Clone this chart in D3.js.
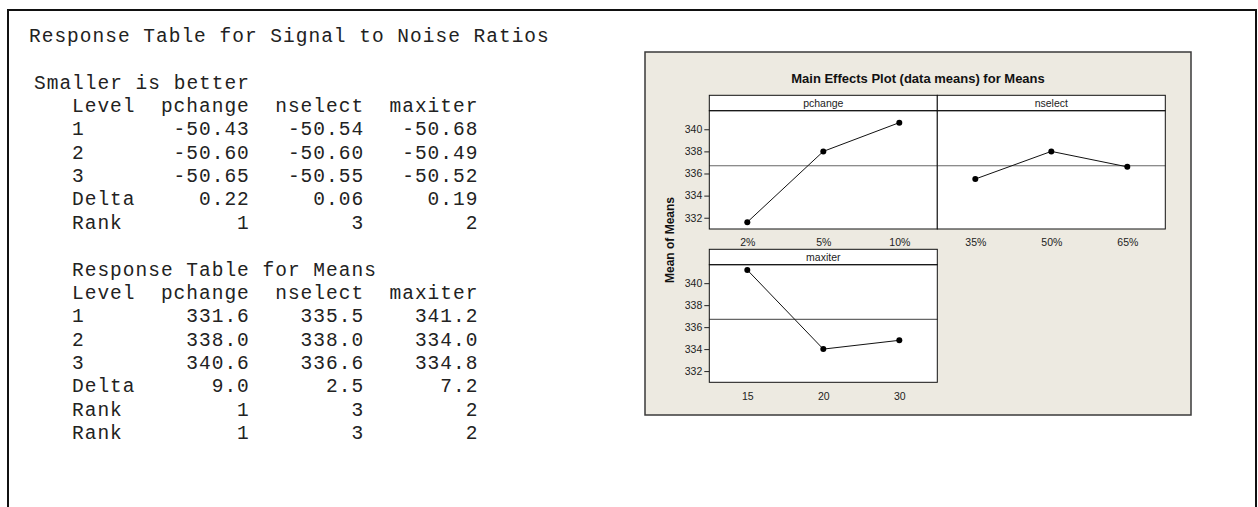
<!DOCTYPE html>
<html>
<head>
<meta charset="utf-8">
<script src="https://cdn.jsdelivr.net/npm/d3@7"></script>
<style>
  body { margin: 0; background: #fff; }
  svg { display: block; }
</style>
</head>
<body>
<script>
// factor names, level labels (x ticks) and mean response per level
const factors = ["pchange", "nselect", "maxiter"];
const pchangeLevels = ["2%", "5%", "10%"];
const nselectLevels = ["35%", "50%", "65%"];
const maxiterLevels = ["15", "20", "30"];
const pchangeMeans = [331.6, 338.0, 340.6];
const nselectMeans = [335.5, 338.0, 336.6];
const maxiterMeans = [341.2, 334.0, 334.8];

// signal to noise ratios (smaller is better)
const pchangeSN = [-50.43, -50.60, -50.65];
const nselectSN = [-50.54, -50.60, -50.55];
const maxiterSN = [-50.68, -50.49, -50.52];
const snDelta = [0.22, 0.06, 0.19];
const snRank = [1, 3, 2];
const meanDelta = [9.0, 2.5, 7.2];
const meanRank = [1, 3, 2];

const yTicks = [332, 334, 336, 338, 340];

const width = 1258, height = 507;

const svg = d3.select("body")
  .append("svg")
  .attr("width", width)
  .attr("height", height);

// page frame (open at the bottom)
svg.append("path")
  .attr("d", "M8," + height + "V10H1256V" + height)
  .attr("fill", "none")
  .attr("stroke", "#111")
  .attr("stroke-width", 2);

// ---- text tables on the left ----
const mono = svg.append("g")
  .attr("font-family", "'Liberation Mono', 'Courier New', monospace")
  .attr("font-size", 19.5)
  .attr("letter-spacing", 1.0)
  .attr("fill", "#222");

const lineH = 23.35, line0 = 42, charW = 12.7, colX = 72;
const lineY = n => line0 + n * lineH;

function put(text, col, n) {
  mono.append("text")
    .attr("x", colX + col * charW)
    .attr("y", lineY(n))
    .text(text);
}
function putRight(text, endCol, n) {
  put(text, endCol - text.length, n);
}
function header(n) {
  put("Level", 0, n);
  factors.forEach((f, i) => putRight(f, 14 + 9 * i, n));
}

mono.append("text").attr("x", 29).attr("y", lineY(0))
  .text("Response Table for Signal to Noise Ratios");
mono.append("text").attr("x", 34).attr("y", lineY(2))
  .text("Smaller is better");

header(3);
[0, 1, 2].forEach(r => {
  put(String(r + 1), 0, 4 + r);
  [pchangeSN, nselectSN, maxiterSN].forEach((arr, i) =>
    putRight(arr[r].toFixed(2), 14 + 9 * i, 4 + r));
});
put("Delta", 0, 7);
snDelta.forEach((d, i) => putRight(d.toFixed(2), 14 + 9 * i, 7));
put("Rank", 0, 8);
snRank.forEach((d, i) => putRight(String(d), 14 + 9 * i, 8));

put("Response Table for Means", 0, 10);
header(11);
[0, 1, 2].forEach(r => {
  put(String(r + 1), 0, 12 + r);
  [pchangeMeans, nselectMeans, maxiterMeans].forEach((arr, i) =>
    putRight(arr[r].toFixed(1), 14 + 9 * i, 12 + r));
});
put("Delta", 0, 15);
meanDelta.forEach((d, i) => putRight(d.toFixed(1), 14 + 9 * i, 15));
[16, 17].forEach(n => {
  put("Rank", 0, n);
  meanRank.forEach((d, i) => putRight(String(d), 14 + 9 * i, n));
});

// ---- main effects plot ----
const panel = { x: 645, y: 52, w: 546, h: 363 };
const g = svg.append("g")
  .attr("font-family", "'Liberation Sans', Arial, sans-serif");

g.append("rect")
  .attr("x", panel.x).attr("y", panel.y)
  .attr("width", panel.w).attr("height", panel.h)
  .attr("fill", "#edeae1")
  .attr("stroke", "#3a3a3a")
  .attr("stroke-width", 1.5);

g.append("text")
  .attr("x", panel.x + panel.w / 2)
  .attr("y", 83)
  .attr("text-anchor", "middle")
  .attr("font-size", 13)
  .attr("font-weight", "bold")
  .attr("fill", "#111")
  .text("Main Effects Plot (data means) for Means");

g.append("text")
  .attr("transform", "translate(674,240)rotate(-90)")
  .attr("text-anchor", "middle")
  .attr("font-size", 12)
  .attr("font-weight", "bold")
  .attr("fill", "#111")
  .text("Mean of Means");

const yDomain = [330.98, 341.68];
const plotLeft = 709.3, cellW = 228, stripH = 15.4;
const rows = [{ top: 95.3, bottom: 229 }, { top: 249.3, bottom: 382.3 }];
const cells = [
  { name: "pchange", levels: pchangeLevels, means: pchangeMeans, row: 0, col: 0 },
  { name: "nselect", levels: nselectLevels, means: nselectMeans, row: 0, col: 1 },
  { name: "maxiter", levels: maxiterLevels, means: maxiterMeans, row: 1, col: 0 }
];
const grandMean = d3.mean([...pchangeMeans, ...nselectMeans, ...maxiterMeans]);

cells.forEach(c => {
  const x0 = plotLeft + c.col * cellW;
  const r = rows[c.row];
  const plotTop = r.top + stripH;

  const x = d3.scalePoint()
    .domain(c.levels)
    .range([x0, x0 + cellW])
    .padding(0.5);
  const y = d3.scaleLinear()
    .domain(yDomain)
    .range([r.bottom, plotTop]);

  // plot area
  g.append("rect")
    .attr("x", x0).attr("y", plotTop)
    .attr("width", cellW).attr("height", r.bottom - plotTop)
    .attr("fill", "#fff");

  // strip with factor name
  g.append("rect")
    .attr("x", x0).attr("y", r.top)
    .attr("width", cellW).attr("height", stripH)
    .attr("fill", "#fff")
    .attr("stroke", "#111");
  g.append("text")
    .attr("x", x0 + cellW / 2)
    .attr("y", r.top + stripH / 2 + 3.8)
    .attr("text-anchor", "middle")
    .attr("font-size", 10.5)
    .attr("fill", "#222")
    .text(c.name);

  // grand mean reference line
  g.append("line")
    .attr("x1", x0).attr("x2", x0 + cellW)
    .attr("y1", y(grandMean)).attr("y2", y(grandMean))
    .attr("stroke", "#666")
    .attr("stroke-width", 1.2);

  const pts = c.levels.map((l, i) => [x(l), y(c.means[i])]);
  g.append("path")
    .attr("d", d3.line()(pts))
    .attr("fill", "none")
    .attr("stroke", "#111")
    .attr("stroke-width", 1);
  g.selectAll(null)
    .data(pts)
    .enter()
    .append("circle")
    .attr("cx", d => d[0])
    .attr("cy", d => d[1])
    .attr("r", 3)
    .attr("fill", "#000");

  // frame
  g.append("rect")
    .attr("x", x0).attr("y", plotTop)
    .attr("width", cellW).attr("height", r.bottom - plotTop)
    .attr("fill", "none")
    .attr("stroke", "#111");

  // x axis labels
  const xa = g.append("g")
    .attr("transform", "translate(0," + r.bottom + ")")
    .call(d3.axisBottom(x).tickSize(0).tickPadding(10));
  xa.select(".domain").remove();
  xa.selectAll("text").attr("font-size", 10.5).attr("fill", "#222").attr("font-family", null);

  // y axis only on the left column
  if (c.col === 0) {
    const ya = g.append("g")
      .attr("transform", "translate(" + x0 + ",0)")
      .call(d3.axisLeft(y).tickValues(yTicks).tickSize(5).tickPadding(2));
    ya.select(".domain").remove();
    ya.selectAll("line").attr("stroke", "#222");
    ya.selectAll("text").attr("font-size", 10.5).attr("fill", "#222").attr("font-family", null);
  }
});
</script>
</body>
</html>
